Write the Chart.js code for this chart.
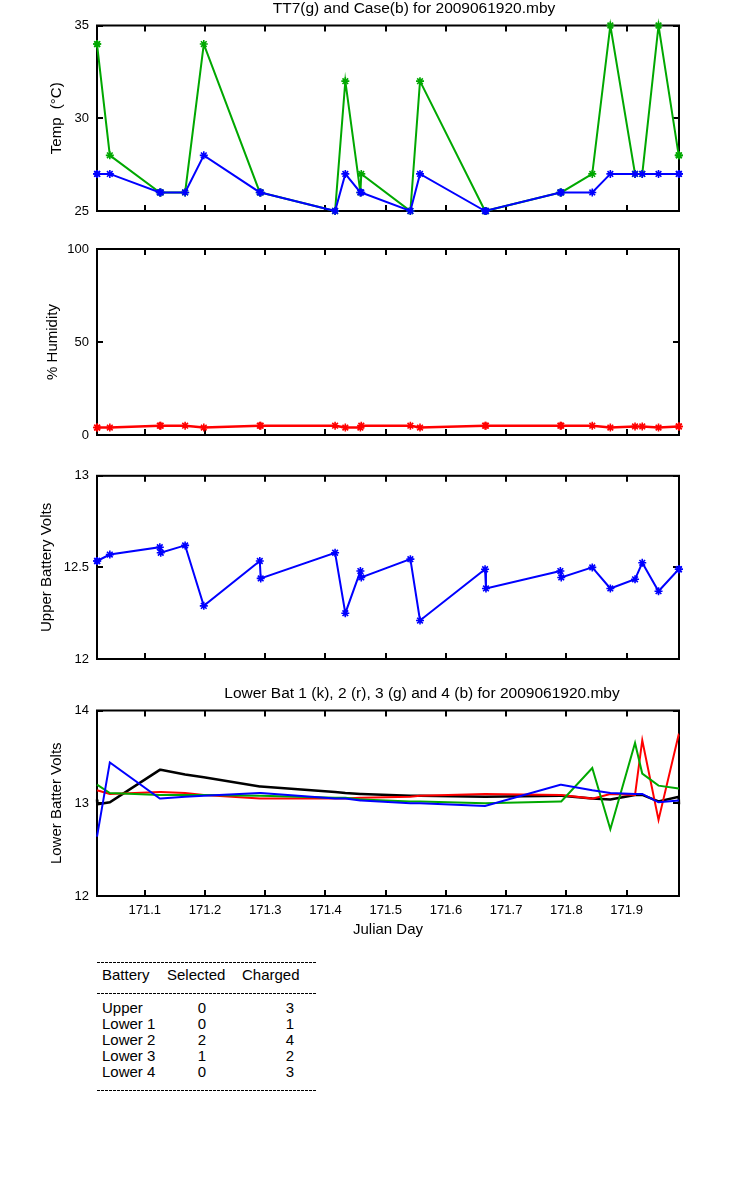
<!DOCTYPE html>
<html>
<head>
<meta charset="utf-8">
<script src="https://cdn.jsdelivr.net/npm/chart.js@4.4.1/dist/chart.umd.min.js"></script>
<style>
  html, body { margin: 0; padding: 0; background: #fff; }
  #page { position: relative; width: 750px; height: 1200px; overflow: hidden; background: #fff;
          font-family: 'Liberation Sans', Arial, sans-serif; }
  canvas { position: absolute; left: 0; }
  .dash { position: absolute; left: 97px; width: 220px; height: 1px;
          background: repeating-linear-gradient(90deg, #000 0 3px, transparent 3px 4px); }
  .cell { position: absolute; font-size: 15px; line-height: 16px; color: #000; white-space: pre; }
</style>
</head>
<body>
<div id="page">
  <canvas id="c1" width="828" height="230" style="top:0px"></canvas>
  <canvas id="c2" width="750" height="230" style="top:230px"></canvas>
  <canvas id="c3" width="750" height="215" style="top:460px"></canvas>
  <canvas id="c4" width="844" height="275" style="top:675px"></canvas>
</div>
<script>
// Julian day of every sample (pairs a few minutes apart show up as vertical jumps)
var times = [171.0207, 171.0212, 171.042, 171.125, 171.1265, 171.167, 171.198, 171.291, 171.2925,
  171.416, 171.433, 171.458, 171.4595, 171.541, 171.557, 171.665, 171.6665, 171.790, 171.7915,
  171.843, 171.873, 171.914, 171.926, 171.953, 171.9865, 171.987];

// temperatures (deg C)
var caseTemp = [27, 27, 27, 26, 26, 26, 28, 26, 26, 25, 27, 26, 26, 25, 27, 25, 25, 26, 26, 26, 27, 27, 27, 27, 27, 27];
var tt7Temp  = [34, 34, 28, 26, 26, 26, 34, 26, 26, 25, 32, 26, 27, 25, 32, 25, 25, 26, 26, 27, 35, 27, 27, 35, 28, 28];

// relative humidity (%)
var humidity = [4, 4, 4, 5, 5, 5, 4, 5, 5, 5, 4, 4, 5, 5, 4, 5, 5, 5, 5, 5, 4, 4.6, 4.6, 4, 4.6, 4.6];

// upper battery (V)
var upperBat = [12.535, 12.535, 12.57, 12.61, 12.58, 12.62, 12.29, 12.535, 12.44, 12.58, 12.25, 12.48, 12.445,
  12.545, 12.21, 12.49, 12.385, 12.48, 12.445, 12.50, 12.385, 12.435, 12.525, 12.37, 12.49, 12.49];

// lower batteries 1..4 (V)
var lowerBat1 = [13.04, 12.99, 13.01, 13.36, 13.36, 13.31, 13.28, 13.18, 13.18, 13.12, 13.11, 13.10, 13.10,
  13.08, 13.08, 13.07, 13.07, 13.08, 13.08, 13.05, 13.04, 13.09, 13.09, 13.02, 13.07, 12.99];
var lowerBat2 = [13.14, 13.14, 13.10, 13.12, 13.12, 13.11, 13.09, 13.05, 13.05, 13.05, 13.05, 13.06, 13.06,
  13.07, 13.08, 13.10, 13.10, 13.09, 13.09, 13.05, 13.10, 13.09, 13.68, 12.82, 13.74, 13.74];
var lowerBat3 = [13.20, 13.20, 13.11, 13.09, 13.09, 13.09, 13.09, 13.08, 13.08, 13.06, 13.06, 13.04, 13.04,
  13.02, 13.02, 13.00, 13.00, 13.02, 13.02, 13.38, 12.72, 13.65, 13.32, 13.19, 13.16, 13.16];
var lowerBat4 = [12.64, 12.64, 13.44, 13.05, 13.05, 13.07, 13.08, 13.11, 13.11, 13.05, 13.05, 13.03, 13.03,
  13.00, 13.00, 12.97, 12.97, 13.20, 13.20, 13.14, 13.11, 13.10, 13.10, 13.01, 13.03, 13.03];

var xTicks = [171.1, 171.2, 171.3, 171.4, 171.5, 171.6, 171.7, 171.8, 171.9];

// charge table
var batteryNames = ['Upper', 'Lower 1', 'Lower 2', 'Lower 3', 'Lower 4'];
var selectedCounts = [0, 0, 2, 1, 0];
var chargedCounts = [3, 1, 4, 2, 3];

var GREEN = '#00a800', BLUE = '#0000ff', RED = '#ff0000', BLACK = '#000000';
var PLOT_LEFT = 97, PLOT_RIGHT = 679;

Chart.defaults.font.family = "'Liberation Sans', Arial, sans-serif";
Chart.defaults.color = '#000';
Chart.defaults.animation = false;

function pts(vals) {
  return vals.map(function(v, i) { return {x: times[i], y: v}; });
}

// box round the plot with inward ticks on all four sides
var framePlugin = {
  id: 'frame',
  beforeDatasetsDraw: function(chart) {
    var ctx = chart.ctx, a = chart.chartArea, x = chart.scales.x, y = chart.scales.y;
    ctx.save();
    ctx.strokeStyle = '#000';
    ctx.lineWidth = 2;
    ctx.beginPath();
    x.ticks.forEach(function(t) {
      var px = Math.round(x.getPixelForValue(t.value));
      ctx.moveTo(px, a.bottom); ctx.lineTo(px, a.bottom - 6);
      ctx.moveTo(px, a.top); ctx.lineTo(px, a.top + 6);
    });
    y.ticks.forEach(function(t) {
      var py = Math.round(y.getPixelForValue(t.value));
      ctx.moveTo(a.left, py); ctx.lineTo(a.left + 6, py);
      ctx.moveTo(a.right, py); ctx.lineTo(a.right - 6, py);
    });
    ctx.stroke();
    ctx.strokeRect(a.left, a.top, a.right - a.left, a.bottom - a.top);
    ctx.restore();
  }
};

function makePanel(id, opt) {
  var canvas = document.getElementById(id);
  var rightGap = canvas.width - PLOT_RIGHT;
  return new Chart(canvas, {
    type: 'line',
    data: { datasets: opt.datasets },
    plugins: [framePlugin],
    options: {
      responsive: false,
      devicePixelRatio: 1,
      layout: { padding: { top: opt.padTop, left: 0, right: 0, bottom: 0 } },
      plugins: {
        legend: { display: false },
        tooltip: { enabled: false },
        title: {
          display: !!opt.title,
          text: opt.title || '',
          font: { size: 15.5, weight: 'normal', lineHeight: 1 },
          padding: { top: 1, bottom: 9 }
        }
      },
      scales: {
        x: {
          type: 'linear',
          min: times[0],
          max: times[times.length - 1],
          grid: { display: false, drawTicks: false },
          border: { display: false },
          afterBuildTicks: function(s) { s.ticks = xTicks.map(function(v) { return {value: v}; }); },
          afterFit: function(s) { s.height = opt.xHeight; },
          ticks: {
            display: !!opt.xLabels,
            padding: 7,
            maxRotation: 0,
            autoSkip: false,
            font: { size: 13 },
            callback: function(v) { return v.toFixed(1); }
          },
          title: {
            display: !!opt.xLabels,
            text: 'Julian Day',
            font: { size: 15, lineHeight: 1 },
            padding: { bottom: 13 }
          }
        },
        y: {
          type: 'linear',
          min: opt.yTicks[0],
          max: opt.yTicks[opt.yTicks.length - 1],
          grid: { display: false, drawTicks: false },
          border: { display: false },
          afterBuildTicks: function(s) { s.ticks = opt.yTicks.map(function(v) { return {value: v}; }); },
          afterFit: function(s) { s.width = PLOT_LEFT; },
          ticks: { padding: 8, font: { size: 13 }, callback: function(v) { return String(v); } },
          title: {
            display: true,
            text: opt.yTitle,
            font: { size: 15, lineHeight: 1 },
            padding: { top: opt.yTitleX - 7.5 }
          }
        },
        // empty axis holding the right margin (canvas may be wider than the page so the title centres like the original)
        yr: {
          type: 'linear',
          position: 'right',
          grid: { display: false, drawTicks: false },
          border: { display: false },
          ticks: { display: false },
          afterFit: function(s) { s.width = rightGap; }
        }
      }
    }
  });
}

function markerSet(vals, color, lw) {
  return {
    data: pts(vals), borderColor: color, backgroundColor: color, borderWidth: lw || 2,
    pointStyle: 'star', pointRadius: 4, pointBorderWidth: 1.6, pointBorderColor: color,
    tension: 0, clip: false
  };
}
function plainSet(vals, color, lw) {
  return {
    data: pts(vals), borderColor: color, borderWidth: lw || 2, pointRadius: 0,
    tension: 0, clip: false
  };
}

makePanel('c1', {
  title: 'TT7(g) and Case(b) for 2009061920.mby',
  padTop: 0, xHeight: 19,
  yTicks: [25, 30, 35], yTitle: 'Temp  (\u00B0C)', yTitleX: 57,
  datasets: [markerSet(caseTemp, BLUE), markerSet(tt7Temp, GREEN)]
});

makePanel('c2', {
  padTop: 19, xHeight: 25,
  yTicks: [0, 50, 100], yTitle: '% Humidity', yTitleX: 53,
  datasets: [markerSet(humidity, RED, 2.5)]
});

makePanel('c3', {
  padTop: 12, xHeight: 16,
  yTicks: [12, 12.5, 13], yTitle: 'Upper Battery Volts', yTitleX: 47,
  datasets: [markerSet(upperBat, BLUE)]
});

makePanel('c4', {
  title: 'Lower Bat 1 (k), 2 (r), 3 (g) and 4 (b) for 2009061920.mby',
  padTop: 10, xHeight: 54, xLabels: true,
  yTicks: [12, 13, 14], yTitle: 'Lower Batter Volts', yTitleX: 57,
  datasets: [
    plainSet(lowerBat4, BLUE),
    plainSet(lowerBat3, GREEN),
    plainSet(lowerBat2, RED),
    plainSet(lowerBat1, BLACK, 2.5)
  ]
});

// charge summary table under the plots
(function() {
  var page = document.getElementById('page');
  function add(cls, text, left, top, width, align) {
    var d = document.createElement('div');
    d.className = cls;
    d.style.left = left + 'px';
    d.style.top = top + 'px';
    if (width) { d.style.width = width + 'px'; d.style.textAlign = align; }
    d.textContent = text;
    page.appendChild(d);
  }
  [962, 993, 1090].forEach(function(y) { add('dash', '', 97, y); });
  add('cell', 'Battery', 102, 967);
  add('cell', 'Selected', 167, 967);
  add('cell', 'Charged', 242, 967);
  batteryNames.forEach(function(name, i) {
    var top = 1000 + i * 16;
    add('cell', name, 102, top);
    add('cell', String(selectedCounts[i]), 187, top, 30, 'center');
    add('cell', String(chargedCounts[i]), 275, top, 30, 'center');
  });
})();
</script>
</body>
</html>
